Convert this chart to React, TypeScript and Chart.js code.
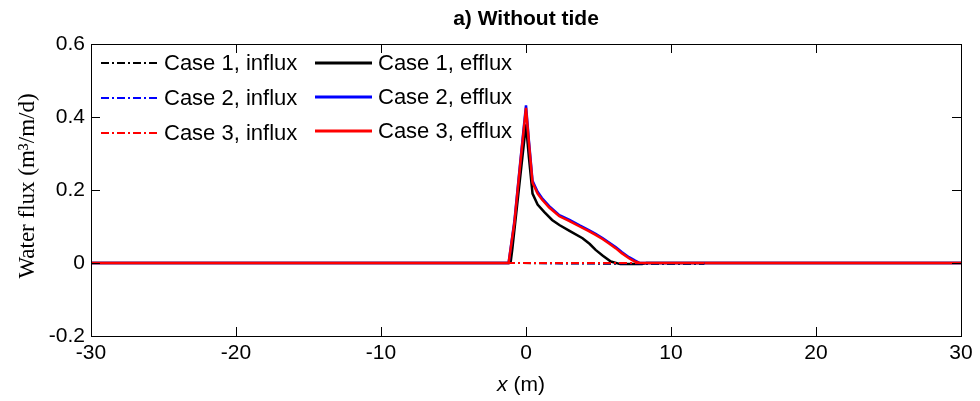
import React, { useEffect, useRef } from "react";
import { Chart, registerables } from "chart.js";

Chart.register(...registerables);

// ---- data ----
const xTicks = [-30, -20, -10, 0, 10, 20, 30];
const yTicks = [-0.2, 0, 0.2, 0.4, 0.6];

const xCase1Efflux = [-30, -1.2, -1.05, -0.95, -0.5, 0, 0.2, 0.45, 0.8, 1.25, 1.8, 2.3, 3.0, 3.9, 4.4, 4.8, 5.3, 5.85, 6.5, 8.0, 8.3, 30];
const case1Efflux = [0, 0, 0.005, 0.036, 0.2, 0.38, 0.29, 0.19, 0.16, 0.14, 0.118, 0.104, 0.088, 0.068, 0.052, 0.036, 0.02, 0.004, -0.003, -0.003, 0, 0];

const xCase23Efflux = [-30, -1.5, -1.2, -0.8, -0.4, 0, 0.2, 0.45, 0.8, 1.1, 1.6, 2.3, 3.0, 3.7, 4.3, 4.8, 5.3, 5.7, 6.2, 6.6, 7.1, 7.5, 7.85, 30];
const case2Efflux = [0, 0, 0, 0.115, 0.275, 0.432, 0.335, 0.225, 0.195, 0.178, 0.156, 0.131, 0.118, 0.103, 0.091, 0.08, 0.068, 0.057, 0.043, 0.03, 0.016, 0.007, 0.0, 0];
const case3Efflux = [0, 0, 0, 0.11, 0.27, 0.425, 0.33, 0.22, 0.19, 0.174, 0.152, 0.128, 0.115, 0.1, 0.088, 0.077, 0.065, 0.054, 0.04, 0.027, 0.013, 0.004, 0, 0];

const xInflux = [-30, -1.2, 6, 12.3];
const case1Influx = [0, 0, -0.002, -0.002];
const case2Influx = [0, 0, -0.001, -0.001];
const case3Influx = [0, 0, 0, 0];

const legendLabels = [
  "Case 1, influx",
  "Case 2, influx",
  "Case 3, influx",
  "Case 1, efflux",
  "Case 2, efflux",
  "Case 3, efflux",
];

const toPts = (xs: number[], ys: number[]) => xs.map((x, i) => ({ x, y: ys[i] }));

const DASH = [8, 3, 2, 3];
const SANS = "'Liberation Sans', Arial, sans-serif";
const SERIF = "'Liberation Serif', 'Times New Roman', serif";

const framePlugin = {
  id: "frame",
  afterDatasetsDraw(chart: any) {
    const { ctx, chartArea: a, scales } = chart;
    const xs = scales.x;
    const ys = scales.y;
    ctx.save();
    ctx.strokeStyle = "#000";
    ctx.lineWidth = 1;
    ctx.setLineDash([]);
    ctx.strokeRect(a.left + 0.5, a.top + 0.5, a.right - a.left, a.bottom - a.top);
    const tl = 9;
    ctx.beginPath();
    for (const v of xTicks) {
      const px = Math.round(xs.getPixelForValue(v)) + 0.5;
      ctx.moveTo(px, a.bottom);
      ctx.lineTo(px, a.bottom - tl);
      ctx.moveTo(px, a.top);
      ctx.lineTo(px, a.top + tl);
    }
    for (const v of yTicks) {
      const py = Math.round(ys.getPixelForValue(v)) + 0.5;
      ctx.moveTo(a.left, py);
      ctx.lineTo(a.left + tl, py);
      ctx.moveTo(a.right, py);
      ctx.lineTo(a.right - tl, py);
    }
    ctx.stroke();

    // title
    ctx.fillStyle = "#000";
    ctx.font = `bold 21px ${SANS}`;
    ctx.textAlign = "center";
    ctx.textBaseline = "middle";
    ctx.fillText("a) Without tide", (a.left + a.right) / 2, 19);

    // x label with italic x
    ctx.font = `italic 21px ${SANS}`;
    const w1 = ctx.measureText("x").width;
    ctx.font = `21px ${SANS}`;
    const w2 = ctx.measureText(" (m)").width;
    const cx = 521;
    const start = cx - (w1 + w2) / 2;
    ctx.textAlign = "left";
    ctx.font = `italic 21px ${SANS}`;
    ctx.fillText("x", start, 385);
    ctx.font = `21px ${SANS}`;
    ctx.fillText(" (m)", start + w1, 385);

    // y label
    ctx.save();
    ctx.translate(28, 186);
    ctx.rotate(-Math.PI / 2);
    ctx.textAlign = "center";
    ctx.font = `23px ${SERIF}`;
    ctx.fillText("Water flux (m\u00B3/m/d)", 0, 0);
    ctx.restore();

    // legend
    const ds = chart.data.datasets;
    const entries = [
      { d: ds[3], x: 101, y: 63 },
      { d: ds[4], x: 101, y: 98 },
      { d: ds[5], x: 101, y: 133 },
      { d: ds[0], x: 315, y: 63 },
      { d: ds[1], x: 315, y: 97 },
      { d: ds[2], x: 315, y: 131 },
    ];
    for (const e of entries) {
      ctx.beginPath();
      ctx.strokeStyle = e.d.borderColor;
      ctx.lineWidth = e.d.borderDash && e.d.borderDash.length ? 2 : 3;
      ctx.setLineDash(e.d.borderDash || []);
      ctx.moveTo(e.x, e.y);
      ctx.lineTo(e.x + 57, e.y);
      ctx.stroke();
      ctx.setLineDash([]);
      ctx.fillStyle = "#000";
      ctx.font = `22px ${SANS}`;
      ctx.textAlign = "left";
      ctx.textBaseline = "middle";
      ctx.fillText(e.d.label, e.x + 63, e.y + 1);
    }
    ctx.restore();
  },
};

export default function App() {
  const ref = useRef<HTMLCanvasElement | null>(null);
  useEffect(() => {
    document.body.style.margin = "0";
    if (!ref.current) return;
    const mk = (label: string, xs: number[], ys: number[], color: string, dashed: boolean, order: number) => ({
      label,
      data: toPts(xs, ys),
      borderColor: color,
      backgroundColor: color,
      borderWidth: dashed ? 2 : 2.5,
      borderDash: dashed ? DASH : [],
      pointRadius: 0,
      tension: 0,
      fill: false,
      order,
    });
    const chart = new Chart(ref.current, {
      type: "line",
      data: {
        datasets: [
          mk(legendLabels[3], xCase1Efflux, case1Efflux, "#000000", false, 6),
          mk(legendLabels[4], xCase23Efflux, case2Efflux, "#0000ff", false, 5),
          mk(legendLabels[5], xCase23Efflux, case3Efflux, "#ff0000", false, 4),
          mk(legendLabels[0], xInflux, case1Influx, "#000000", true, 3),
          mk(legendLabels[1], xInflux, case2Influx, "#0000ff", true, 2),
          mk(legendLabels[2], xInflux, case3Influx, "#ff0000", true, 1),
        ] as any,
      },
      options: {
        responsive: false,
        animation: false,
        devicePixelRatio: 1,
        layout: { padding: { top: 44, right: 19, left: 0, bottom: 0 } },
        plugins: { legend: { display: false }, title: { display: false }, tooltip: { enabled: false } },
        scales: {
          x: {
            type: "linear",
            min: -30,
            max: 30,
            afterBuildTicks: (s: any) => {
              s.ticks = xTicks.map((v) => ({ value: v }));
            },
            afterFit: (s: any) => {
              s.height = 65;
            },
            grid: { display: false, drawTicks: false },
            border: { display: false },
            ticks: {
              color: "#000",
              font: { family: SANS, size: 21 },
              padding: 5,
              maxRotation: 0,
              autoSkip: false,
              callback: (v: any) => String(v),
            },
          },
          y: {
            type: "linear",
            min: -0.2,
            max: 0.6,
            afterBuildTicks: (s: any) => {
              s.ticks = yTicks.map((v) => ({ value: v }));
            },
            afterFit: (s: any) => {
              s.width = 91;
            },
            grid: { display: false, drawTicks: false },
            border: { display: false },
            ticks: {
              color: "#000",
              font: { family: SANS, size: 21 },
              padding: 6,
              autoSkip: false,
              callback: (v: any) => String(Number(Number(v).toFixed(1))),
            },
          },
        },
      },
      plugins: [framePlugin],
    });
    return () => chart.destroy();
  }, []);
  return (
    <div style={{ width: 980, height: 401 }}>
      <canvas ref={ref} width={980} height={401} style={{ display: "block", width: 980, height: 401 }} />
    </div>
  );
}
